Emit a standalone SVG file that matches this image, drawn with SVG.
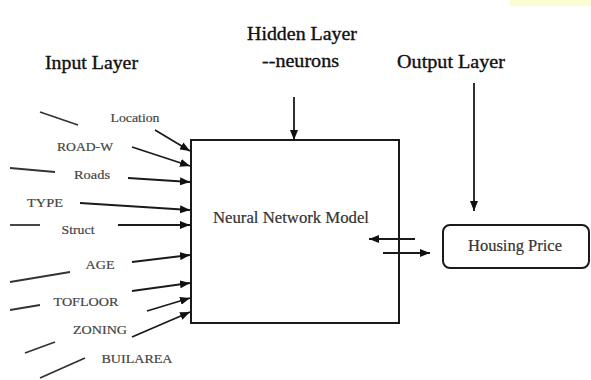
<svg xmlns="http://www.w3.org/2000/svg" width="591" height="380" viewBox="0 0 591 380">
  <defs>
    <marker id="arrow" markerUnits="userSpaceOnUse" markerWidth="10" markerHeight="8" refX="10" refY="4" orient="auto">
      <path d="M0,0 L10,4 L0,8 Z" fill="#111"/>
    </marker>
    <style>
      .hdr { font-family: "Liberation Serif", "Times New Roman", serif; font-size: 18px; fill: #111; stroke: #111; stroke-width: 0.35; }
      .lbl { font-family: "Liberation Serif", "Times New Roman", serif; font-size: 13.5px; fill: #444; stroke: #444; stroke-width: 0.2; text-anchor: middle; }
      .mid { font-family: "Liberation Serif", "Times New Roman", serif; font-size: 16px; fill: #333; stroke: #333; stroke-width: 0.2; text-anchor: middle; }
      .arr { stroke: #1a1a1a; stroke-width: 1.8; fill: none; marker-end: url(#arrow); }
      .bare { stroke: #333; stroke-width: 1.8; fill: none; }
      .box { fill: #fff; stroke: #1a1a1a; stroke-width: 2; }
    </style>
  </defs>

  <rect width="591" height="380" fill="#fff"/>
  <rect x="510" y="0" width="81" height="6" fill="#fdfbd2"/>

  <!-- layer headings -->
  <g id="headings">
    <text class="hdr" x="45" y="69" textLength="93" lengthAdjust="spacingAndGlyphs">Input Layer</text>
    <text class="hdr" x="247" y="40" textLength="110" lengthAdjust="spacingAndGlyphs">Hidden Layer</text>
    <text class="hdr" x="262" y="67" textLength="77" lengthAdjust="spacingAndGlyphs">--neurons</text>
    <text class="hdr" x="397" y="68" textLength="108" lengthAdjust="spacingAndGlyphs">Output Layer</text>
  </g>

  <!-- model node -->
  <g id="model">
    <rect class="box" x="191" y="140" width="208" height="183"/>
    <text class="mid" x="291" y="223" textLength="156" lengthAdjust="spacingAndGlyphs">Neural Network Model</text>
  </g>

  <!-- output node -->
  <g id="housing-price">
    <rect class="box" x="443" y="225" width="146" height="43" rx="7"/>
    <text class="mid" x="515" y="251" textLength="94" lengthAdjust="spacingAndGlyphs">Housing Price</text>
  </g>

  <!-- input variables -->
  <g id="inputs">
    <text class="lbl" x="135" y="122" textLength="49" lengthAdjust="spacingAndGlyphs">Location</text>
    <text class="lbl" x="85" y="151" textLength="56" lengthAdjust="spacingAndGlyphs">ROAD-W</text>
    <text class="lbl" x="92" y="179" textLength="36" lengthAdjust="spacingAndGlyphs">Roads</text>
    <text class="lbl" x="45" y="207" textLength="36" lengthAdjust="spacingAndGlyphs">TYPE</text>
    <text class="lbl" x="78" y="234" textLength="33" lengthAdjust="spacingAndGlyphs">Struct</text>
    <text class="lbl" x="100" y="269" textLength="29" lengthAdjust="spacingAndGlyphs">AGE</text>
    <text class="lbl" x="86" y="306" textLength="65" lengthAdjust="spacingAndGlyphs">TOFLOOR</text>
    <text class="lbl" x="100" y="334" textLength="54" lengthAdjust="spacingAndGlyphs">ZONING</text>
    <text class="lbl" x="137" y="363" textLength="71" lengthAdjust="spacingAndGlyphs">BUILAREA</text>
  </g>

  <!-- connectors -->
  <g id="connectors">
    <line class="arr" x1="155" y1="130" x2="190" y2="151"/>
    <line class="arr" x1="132" y1="147" x2="190" y2="166"/>
    <line class="arr" x1="128" y1="178" x2="190" y2="182"/>
    <line class="arr" x1="80" y1="203" x2="190" y2="210"/>
    <line class="arr" x1="118" y1="225" x2="190" y2="225"/>
    <line class="arr" x1="132" y1="262" x2="190" y2="255"/>
    <line class="arr" x1="132" y1="291" x2="190" y2="283"/>
    <line class="arr" x1="147" y1="311" x2="190" y2="298"/>
    <line class="arr" x1="132" y1="337" x2="190" y2="312"/>

    <line class="bare" x1="40" y1="112" x2="78" y2="125"/>
    <line class="bare" x1="10" y1="168" x2="55" y2="172"/>
    <line class="bare" x1="10" y1="225" x2="40" y2="225" stroke="#555" stroke-width="2.2"/>
    <line class="bare" x1="10" y1="282" x2="70" y2="272"/>
    <line class="bare" x1="10" y1="310" x2="40" y2="305"/>
    <line class="bare" x1="25" y1="353" x2="55" y2="342"/>
    <line class="bare" x1="40" y1="378" x2="85" y2="358"/>

    <line class="arr" x1="294" y1="97" x2="294" y2="140"/>
    <line class="arr" x1="474" y1="83" x2="474" y2="211"/>

    <line class="arr" x1="415" y1="239" x2="369" y2="239" stroke="#333"/>
    <line class="arr" x1="383" y1="253" x2="430" y2="253" stroke="#333"/>
  </g>
</svg>
